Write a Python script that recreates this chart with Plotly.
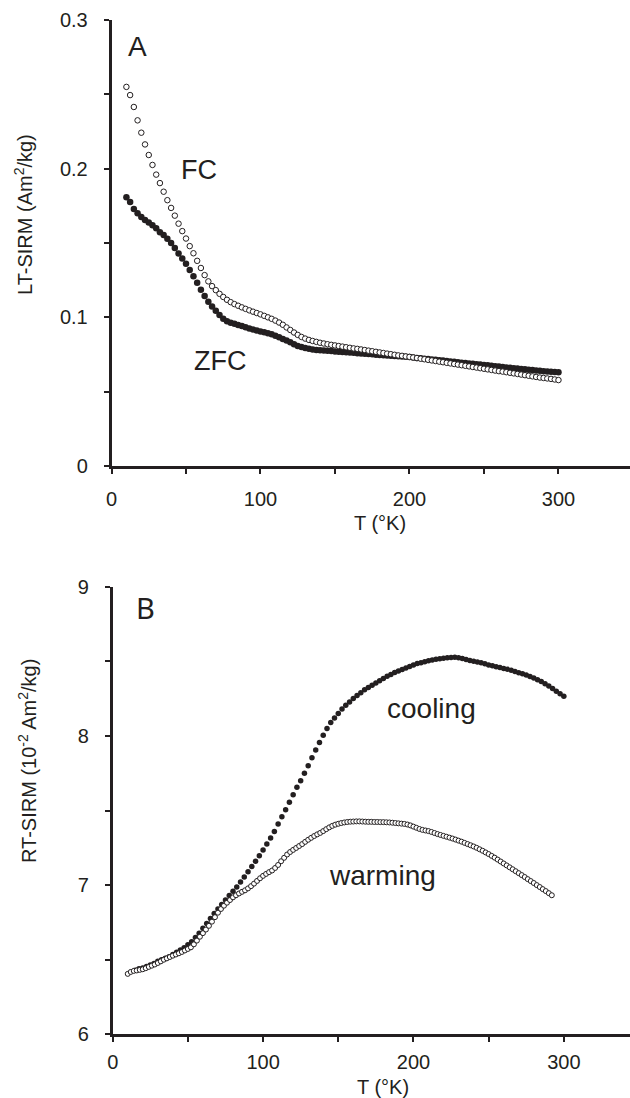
import plotly.graph_objects as go

# ---- Panel A: low-temperature SIRM (Am2/kg) vs temperature (K) ----
T_LT = [10, 12.5, 15, 17.5, 20, 22.5, 25, 27.5, 30, 32.5,
        35, 37.5, 40, 42.5, 45, 47.5, 50, 52.5, 55, 57.5,
        60, 62.5, 65, 67.5, 70, 72.5, 75, 77.5, 80, 82.5,
        85, 87.5, 90, 92.5, 95, 97.5, 100, 102.5, 105, 107.5,
        110, 112.5, 115, 117.5, 120, 122.5, 125, 127.5, 130, 132.5,
        135, 137.5, 140, 142.5, 145, 147.5, 150, 152.5, 155, 157.5,
        160, 162.5, 165, 167.5, 170, 172.5, 175, 177.5, 180, 182.5,
        185, 187.5, 190, 192.5, 195, 197.5, 200, 202.5, 205, 207.5,
        210, 212.5, 215, 217.5, 220, 222.5, 225, 227.5, 230, 232.5,
        235, 237.5, 240, 242.5, 245, 247.5, 250, 252.5, 255, 257.5,
        260, 262.5, 265, 267.5, 270, 272.5, 275, 277.5, 280, 282.5,
        285, 287.5, 290, 292.5, 295, 297.5, 300]

FC = [0.2550, 0.2495, 0.2415, 0.2325, 0.2242, 0.2163, 0.2092, 0.2025, 0.1960, 0.1903,
      0.1845, 0.1788, 0.1736, 0.1684, 0.1630, 0.1580, 0.1530, 0.1479, 0.1431, 0.1380,
      0.1332, 0.1284, 0.1242, 0.1210, 0.1183, 0.1158, 0.1137, 0.1118, 0.1102, 0.1089,
      0.1078, 0.1067, 0.1057, 0.1047, 0.1038, 0.1029, 0.1020, 0.1010, 0.1000, 0.0990,
      0.0978, 0.0965, 0.0950, 0.0932, 0.0915, 0.0898, 0.0882, 0.0868, 0.0857, 0.0848,
      0.0841, 0.0835, 0.0829, 0.0824, 0.0819, 0.0815, 0.0811, 0.0807, 0.0803, 0.0799,
      0.0795, 0.0791, 0.0788, 0.0784, 0.0780, 0.0776, 0.0772, 0.0768, 0.0764, 0.0760,
      0.0756, 0.0752, 0.0748, 0.0744, 0.0741, 0.0737, 0.0734, 0.0730, 0.0726, 0.0722,
      0.0718, 0.0714, 0.0710, 0.0706, 0.0702, 0.0698, 0.0694, 0.0690, 0.0686, 0.0682,
      0.0678, 0.0674, 0.0670, 0.0666, 0.0662, 0.0658, 0.0654, 0.0650, 0.0646, 0.0642,
      0.0638, 0.0635, 0.0631, 0.0627, 0.0623, 0.0619, 0.0615, 0.0611, 0.0607, 0.0603,
      0.0599, 0.0595, 0.0592, 0.0589, 0.0586, 0.0582, 0.0578]

ZFC = [0.1807, 0.1775, 0.1728, 0.1700, 0.1675, 0.1655, 0.1638, 0.1620, 0.1600, 0.1573,
       0.1553, 0.1528, 0.1500, 0.1466, 0.1430, 0.1395, 0.1360, 0.1318, 0.1277, 0.1233,
       0.1185, 0.1143, 0.1105, 0.1073, 0.1045, 0.1015, 0.0990, 0.0974, 0.0964, 0.0956,
       0.0949, 0.0941, 0.0933, 0.0925, 0.0918, 0.0911, 0.0905, 0.0899, 0.0893, 0.0886,
       0.0876, 0.0866, 0.0855, 0.0845, 0.0832, 0.0819, 0.0808, 0.0800, 0.0793, 0.0788,
       0.0784, 0.0781, 0.0779, 0.0777, 0.0775, 0.0773, 0.0771, 0.0769, 0.0767, 0.0765,
       0.0763, 0.0761, 0.0759, 0.0757, 0.0755, 0.0753, 0.0751, 0.0749, 0.0747, 0.0745,
       0.0744, 0.0742, 0.0740, 0.0738, 0.0737, 0.0735, 0.0733, 0.0730, 0.0727, 0.0725,
       0.0722, 0.0719, 0.0717, 0.0714, 0.0711, 0.0709, 0.0706, 0.0703, 0.0701, 0.0698,
       0.0695, 0.0693, 0.0690, 0.0687, 0.0685, 0.0682, 0.0679, 0.0677, 0.0674, 0.0671,
       0.0669, 0.0666, 0.0663, 0.0661, 0.0658, 0.0655, 0.0653, 0.0650, 0.0647, 0.0645,
       0.0642, 0.0640, 0.0638, 0.0636, 0.0634, 0.0632, 0.0630]

# ---- Panel B: room-temperature SIRM (10^-2 Am2/kg) on cooling and warming ----
T_COOL = [15, 17.5, 20, 22.5, 25, 27.5, 30, 32.5, 35, 37.5,
          40, 42.5, 45, 47.5, 50, 52.5, 55, 57.5, 60, 62.5,
          65, 67.5, 70, 72.5, 75, 77.5, 80, 82.5, 85, 87.5,
          90, 92.5, 95, 97.5, 100, 102.5, 105, 107.5, 110, 112.5,
          115, 117.5, 120, 122.5, 125, 127.5, 130, 132.5, 135, 137.5,
          140, 142.5, 145, 147.5, 150, 152.5, 155, 157.5, 160, 162.5,
          165, 167.5, 170, 172.5, 175, 177.5, 180, 182.5, 185, 187.5,
          190, 192.5, 195, 197.5, 200, 202.5, 205, 207.5, 210, 212.5,
          215, 217.5, 220, 222.5, 225, 227.5, 230, 232.5, 235, 237.5,
          240, 242.5, 245, 247.5, 250, 252.5, 255, 257.5, 260, 262.5,
          265, 267.5, 270, 272.5, 275, 277.5, 280, 282.5, 285, 287.5,
          290, 292.5, 295, 297.5, 300]

COOLING = [6.430, 6.440, 6.445, 6.455, 6.465, 6.475, 6.490, 6.500, 6.510, 6.520,
           6.535, 6.550, 6.565, 6.580, 6.600, 6.620, 6.648, 6.678, 6.710, 6.742,
           6.776, 6.810, 6.840, 6.870, 6.900, 6.930, 6.958, 6.988, 7.020, 7.055,
           7.090, 7.125, 7.160, 7.197, 7.235, 7.275, 7.315, 7.360, 7.410, 7.458,
           7.505, 7.555, 7.605, 7.655, 7.700, 7.750, 7.800, 7.853, 7.905, 7.955,
           8.005, 8.050, 8.090, 8.120, 8.150, 8.180, 8.205, 8.228, 8.250, 8.270,
           8.290, 8.310, 8.325, 8.340, 8.355, 8.370, 8.385, 8.400, 8.412, 8.425,
           8.435, 8.445, 8.455, 8.465, 8.475, 8.485, 8.490, 8.497, 8.503, 8.508,
           8.513, 8.517, 8.520, 8.524, 8.526, 8.527, 8.523, 8.518, 8.512, 8.505,
           8.500, 8.495, 8.490, 8.484, 8.476, 8.470, 8.464, 8.458, 8.452, 8.446,
           8.440, 8.432, 8.424, 8.416, 8.408, 8.398, 8.388, 8.377, 8.365, 8.350,
           8.335, 8.318, 8.300, 8.283, 8.265]

T_WARM = [10, 12, 14, 16, 18, 20, 22, 24, 26, 28,
          30, 32, 34, 36, 38, 40, 42, 44, 46, 48,
          50, 52, 54, 56, 58, 60, 62, 64, 66, 68,
          70, 72, 74, 76, 78, 80, 82, 84, 86, 88,
          90, 92, 94, 96, 98, 100, 102, 104, 106, 108,
          110, 112, 114, 116, 118, 120, 122, 124, 126, 128,
          130, 132, 134, 136, 138, 140, 142, 144, 146, 148,
          150, 152, 154, 156, 158, 160, 162, 164, 166, 168,
          170, 172, 174, 176, 178, 180, 182, 184, 186, 188,
          190, 192, 194, 196, 198, 200, 202, 204, 206, 208,
          210, 212, 214, 216, 218, 220, 222, 224, 226, 228,
          230, 232, 234, 236, 238, 240, 242, 244, 246, 248,
          250, 252, 254, 256, 258, 260, 262, 264, 266, 268,
          270, 272, 274, 276, 278, 280, 282, 284, 286, 288,
          290, 292]

WARMING = [6.405, 6.418, 6.425, 6.428, 6.432, 6.436, 6.443, 6.452, 6.460, 6.468,
           6.478, 6.489, 6.500, 6.509, 6.518, 6.527, 6.535, 6.543, 6.552, 6.562,
           6.572, 6.583, 6.603, 6.628, 6.654, 6.678, 6.702, 6.727, 6.755, 6.785,
           6.815, 6.840, 6.862, 6.882, 6.900, 6.918, 6.932, 6.944, 6.955, 6.965,
           6.978, 6.993, 7.010, 7.028, 7.046, 7.062, 7.075, 7.087, 7.098, 7.115,
           7.135, 7.160, 7.183, 7.205, 7.222, 7.236, 7.249, 7.262, 7.275, 7.290,
           7.304, 7.317, 7.329, 7.340, 7.350, 7.362, 7.375, 7.387, 7.397, 7.405,
           7.411, 7.416, 7.420, 7.423, 7.425, 7.426, 7.427, 7.427, 7.426, 7.425,
           7.424, 7.424, 7.423, 7.423, 7.422, 7.422, 7.421, 7.420, 7.418, 7.416,
           7.414, 7.412, 7.410, 7.406, 7.400, 7.392, 7.384, 7.376, 7.370, 7.366,
           7.362, 7.356, 7.349, 7.342, 7.336, 7.330, 7.324, 7.318, 7.312, 7.305,
           7.298, 7.291, 7.283, 7.275, 7.267, 7.259, 7.250, 7.240, 7.230, 7.219,
           7.208, 7.196, 7.184, 7.171, 7.158, 7.145, 7.132, 7.119, 7.106, 7.093,
           7.080, 7.067, 7.054, 7.040, 7.027, 7.014, 7.000, 6.987, 6.973, 6.960,
           6.946, 6.932]

# ---- Tick labels (major ticks carry labels, minor ticks sit halfway) ----
X_TICKS = [0, 100, 200, 300]
X_TICK_TEXT = ["0", "100", "200", "300"]
YA_TICKS = [0, 0.1, 0.2, 0.3]
YA_TICK_TEXT = ["0", "0.1", "0.2", "0.3"]
YB_TICKS = [6, 7, 8, 9]
YB_TICK_TEXT = ["6", "7", "8", "9"]

W, H = 630, 1098
INK = "#231f20"
FONT = "Liberation Sans, Arial, sans-serif"


def px(x, y):
    """Pixel position -> paper coordinates."""
    return x / W, 1 - y / H


open_marker = dict(size=5.5, color="white", symbol="circle",
                   line=dict(color=INK, width=1))
solid_marker = dict(size=6, color=INK, symbol="circle", line=dict(width=0))

fig = go.Figure()
fig.add_trace(go.Scatter(x=T_LT, y=ZFC, mode="markers",
                         marker=dict(solid_marker, size=6.5),
                         xaxis="x", yaxis="y", name="ZFC"))
fig.add_trace(go.Scatter(x=T_LT, y=FC, mode="markers", marker=open_marker,
                         xaxis="x", yaxis="y", name="FC"))
fig.add_trace(go.Scatter(x=T_COOL, y=COOLING, mode="markers",
                         marker=dict(solid_marker, size=5.5),
                         xaxis="x2", yaxis="y2", name="cooling"))
fig.add_trace(go.Scatter(x=T_WARM, y=WARMING, mode="markers",
                         marker=dict(open_marker, size=5),
                         xaxis="x2", yaxis="y2", name="warming"))

axis_style = dict(showline=True, linecolor=INK, linewidth=2.5,
                  ticks="outside", ticklen=5, tickwidth=2, tickcolor=INK,
                  showgrid=False, zeroline=False, automargin=False,
                  tickfont=dict(family=FONT, size=20, color=INK),
                  fixedrange=True)

top_y0, top_y1 = 466, 20
bot_y0, bot_y1 = 1034.3, 586.7

fig.update_layout(
    width=W, height=H,
    margin=dict(l=0, r=0, t=0, b=0),
    paper_bgcolor="white", plot_bgcolor="white",
    showlegend=False,
    xaxis=dict(axis_style, domain=[111.5 / W, 1], range=[0, 348],
               anchor="y", tickvals=X_TICKS, ticktext=X_TICK_TEXT,
               ticklabelstandoff=8,
               minor=dict(dtick=50, tick0=0, ticks="outside", ticklen=5,
                          tickwidth=2, tickcolor=INK, showgrid=False)),
    yaxis=dict(axis_style, domain=[1 - top_y0 / H, 1 - top_y1 / H],
               range=[0, 0.3], anchor="x", tickvals=YA_TICKS,
               ticktext=YA_TICK_TEXT, ticklabelstandoff=12,
               minor=dict(dtick=0.05, tick0=0, ticks="outside", ticklen=5,
                          tickwidth=2, tickcolor=INK, showgrid=False)),
    xaxis2=dict(axis_style, domain=[112.7 / W, 1], range=[0, 344],
                anchor="y2", tickvals=X_TICKS, ticktext=X_TICK_TEXT,
                ticklabelstandoff=3,
                minor=dict(dtick=50, tick0=0, ticks="outside", ticklen=5,
                           tickwidth=2, tickcolor=INK, showgrid=False)),
    yaxis2=dict(axis_style, domain=[1 - bot_y0 / H, 1 - bot_y1 / H],
                range=[6, 9], anchor="x2", tickvals=YB_TICKS,
                ticktext=YB_TICK_TEXT, ticklabelstandoff=12,
                minor=dict(dtick=0.5, tick0=6, ticks="outside", ticklen=5,
                           tickwidth=2, tickcolor=INK, showgrid=False)),
)


def label(text, x, y, size=20, angle=0, family=FONT):
    ax, ay = px(x, y)
    fig.add_annotation(text=text, x=ax, y=ay, xref="paper", yref="paper",
                       xanchor="center", yanchor="middle", showarrow=False,
                       textangle=angle,
                       font=dict(family=family, size=size, color=INK))


# Panel letters and curve labels
label("A", 137.5, 47, size=28)
label("FC", 199, 170, size=27)
label("ZFC", 220, 361, size=27)
label("B", 145, 607, size=29, family="Noto Sans, sans-serif")
label("cooling", 431, 708, size=28)
label("warming", 382, 875, size=28)

# Axis titles
label("T (°K)", 380, 523, size=20)
label("T (°K)", 383, 1087, size=20)
label("LT-SIRM (Am<sup>2</sup>/kg)", 23, 215, size=20, angle=-90)
label("RT-SIRM (10<sup>-2</sup> Am<sup>2</sup>/kg)", 27, 761, size=20, angle=-90)

fig.write_html("out.html")
